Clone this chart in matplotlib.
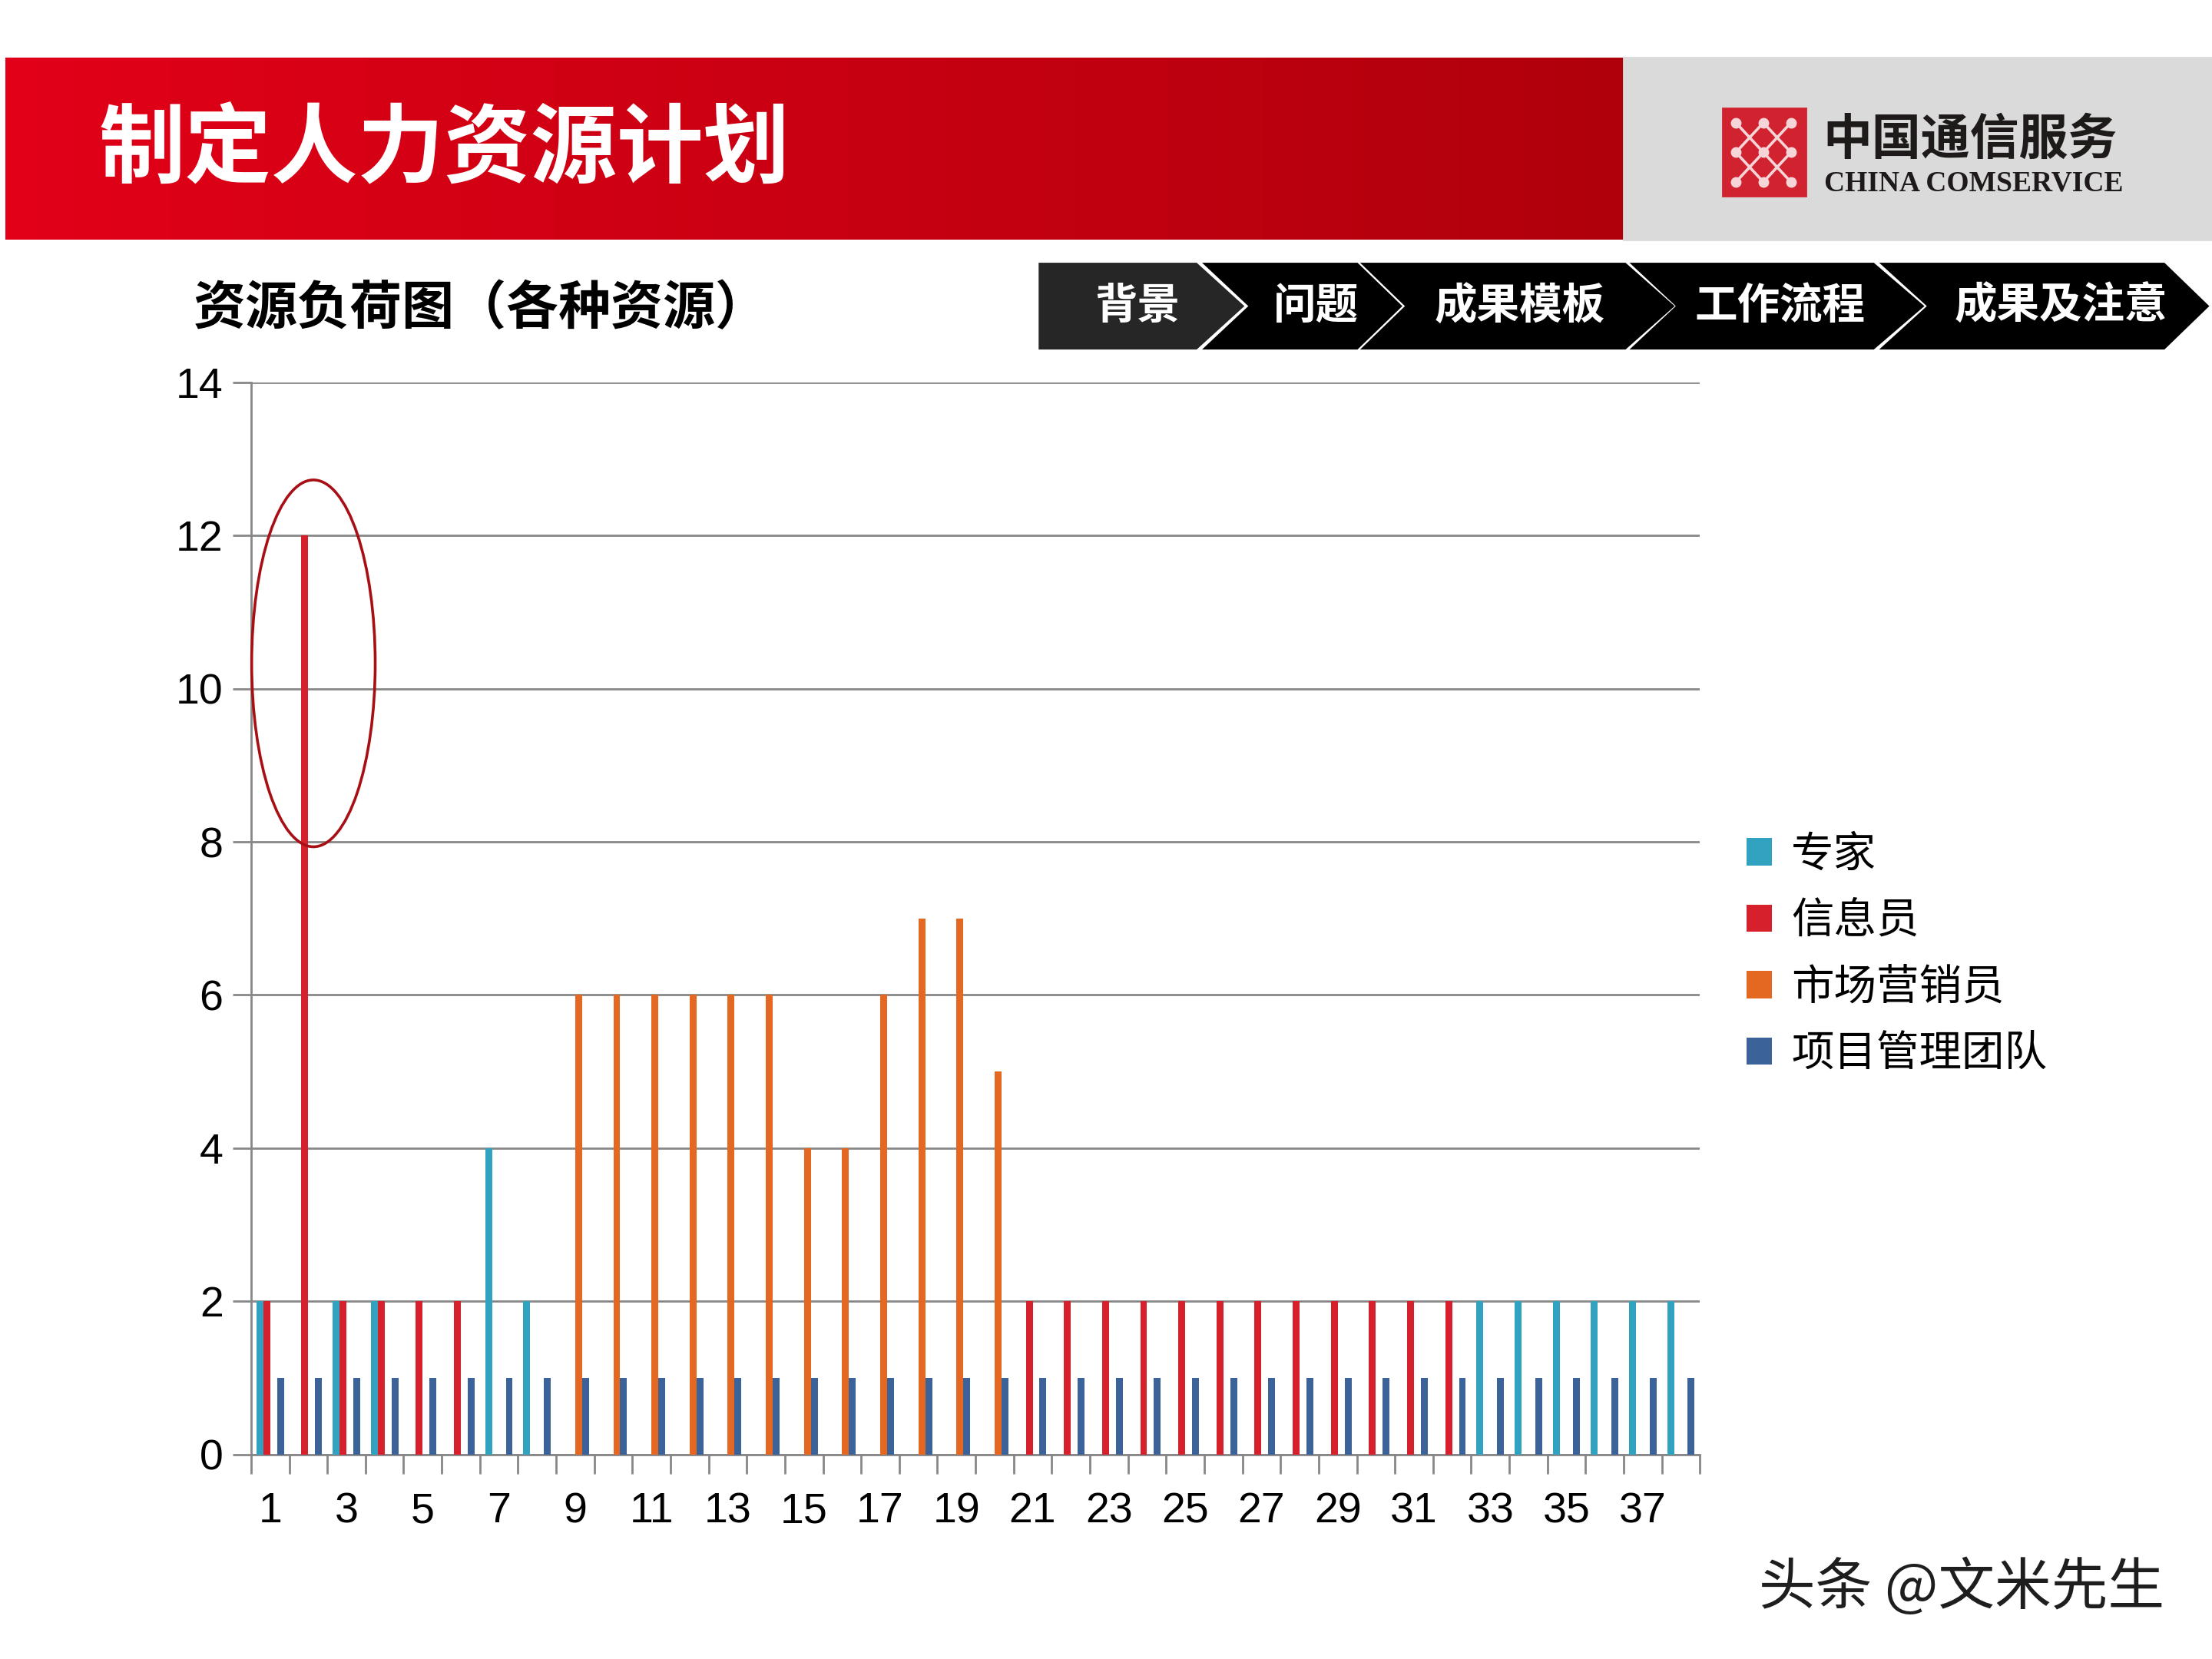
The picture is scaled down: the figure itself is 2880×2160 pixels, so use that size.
import numpy as np
import matplotlib
matplotlib.use('Agg')
import matplotlib.pyplot as plt
from matplotlib.patches import Rectangle, Polygon, Ellipse

plt.rcParams['font.family'] = ['Liberation Sans', 'Noto Sans CJK SC', 'DejaVu Sans']
CJK = ['Noto Sans CJK SC', 'DejaVu Sans']

# data
categories = list(range(1, 39))
series_names = ['专家', '信息员', '市场营销员', '项目管理团队']
expert = [2, 0, 2, 2, 0, 0, 4, 2] + [0] * 24 + [2] * 6
informant = [2, 12, 2, 2, 2, 2, 0, 0] + [0] * 12 + [2] * 12 + [0] * 6
marketing = [0] * 8 + [6, 6, 6, 6, 6, 6, 4, 4, 6, 7, 7, 5] + [0] * 18
pm_team = [1] * 38
series_values = [expert, informant, marketing, pm_team]
series_colors = ['#31A2BF', '#D6212C', '#E46722', '#3B6399']

xtick_labels = [str(c) if c % 2 == 1 else '' for c in categories]
yticks = [0, 2, 4, 6, 8, 10, 12, 14]

title = '制定人力资源计划'
subtitle = '资源负荷图（各种资源）'
nav_labels = ['背景', '问题', '成果模板', '工作流程', '成果及注意']
nav_centers = [806, 933, 1077, 1262, 1461]
watermark = '头条 @文米先生'

fig = plt.figure(figsize=(14.4, 10.8), dpi=200)
fig.patch.set_facecolor('white')

# background layer in reference pixel units (1568 x 1176)
bg = fig.add_axes([0, 0, 1, 1])
bg.set_xlim(0, 1568)
bg.set_ylim(1176, 0)
bg.axis('off')

# header gradient
t = np.linspace(0, 1, 256)
left = np.array([226, 0, 24]) / 255
right = np.array([176, 0, 12]) / 255
grad = (left[None, :] * (1 - t[:, None]) + right[None, :] * t[:, None])[None, :, :]
bg.imshow(grad, extent=(4, 1151, 170, 41), aspect='auto', zorder=1)
bg.add_patch(Rectangle((1151, 41), 417, 129, color='#DADADA', zorder=1))
bg.text(70, 107, title, color='white', fontsize=40.5, fontweight='bold',
        family=CJK, va='center', ha='left', zorder=3)

# logo
bg.add_patch(Rectangle((1221, 77), 59, 62, color='#D12230', zorder=2))
gx = [1230.5, 1250, 1269.5]
gy = [87, 108, 129]
links = [((0, 0), (2, 2)), ((2, 0), (0, 2)), ((1, 0), (0, 1)), ((1, 0), (2, 1)),
         ((0, 1), (1, 2)), ((2, 1), (1, 2))]
for (a, b), (c, d) in links:
    bg.plot([gx[a], gx[c]], [gy[b], gy[d]], color='#F6D5D8', lw=1.3, zorder=3)
for i in range(3):
    for j in range(3):
        bg.plot(gx[i], gy[j], 'o', color='#F6D5D8', ms=4, zorder=4)
bg.text(1292, 99, '中国通信服务', color='#1E1A1A', fontsize=23, fontweight='bold',
        family=CJK, va='center', ha='left', zorder=3)
bg.text(1293, 130, 'CHINA COMSERVICE', color='#1E1A1A', fontsize=13.5, fontweight='bold',
        family='Liberation Serif', va='center', ha='left', zorder=3)

# subtitle
bg.text(137, 219, subtitle, color='black', fontsize=24.5, fontweight='bold',
        family=CJK, va='center', ha='left', zorder=3)

# chevron navigation
chevrons = [
    [(737, 187), (848, 187), (881, 217), (848, 247), (737, 247)],
    [(854, 187), (962, 187), (993, 217), (962, 247), (854, 247), (886, 217)],
    [(966, 187), (1152, 187), (1186, 217), (1152, 247), (966, 247), (997, 217)],
    [(1157, 187), (1328, 187), (1363, 217), (1328, 247), (1157, 247), (1189, 217)],
    [(1334, 187), (1534, 187), (1565, 217), (1534, 247), (1334, 247), (1367, 217)],
]
for k, pts in enumerate(chevrons):
    bg.add_patch(Polygon(pts, closed=True, color='#262626' if k == 0 else 'black', zorder=2))
for label, cx in zip(nav_labels, nav_centers):
    bg.text(cx, 217, label, color='white', fontsize=20, fontweight='bold',
            family=CJK, va='center', ha='center', zorder=3)

bg.text(1247, 1126, watermark, color='#1E1E1E', fontsize=26.5,
        family=CJK, va='center', ha='left', zorder=3)

# chart
ax = fig.add_axes([178 / 1568, 1 - 1031 / 1176, 1027 / 1568, 760 / 1176])
ax.patch.set_alpha(0)
x = np.arange(len(categories))
w = 0.18
offsets = [-0.27, -0.09, 0.09, 0.27]
handles = []
for vals, off, col in zip(series_values, offsets, series_colors):
    h = ax.bar(x + off, vals, width=w, color=col, zorder=3)
    handles.append(h)

ax.set_xlim(-0.5, len(categories) - 0.5)
ax.set_ylim(0, 14)
ax.set_yticks(yticks)
ax.set_yticklabels([str(v) for v in yticks])
ax.yaxis.grid(True, color='#878787', linewidth=1.0)
ax.set_axisbelow(True)

ax.set_xticks(x)
ax.set_xticklabels(xtick_labels)
ax.set_xticks(np.arange(-0.5, len(categories)), minor=True)
ax.tick_params(axis='x', which='major', length=0, pad=17.5, labelsize=20)
ax.tick_params(axis='x', which='minor', length=9, width=1.0, color='#878787', direction='out')
ax.tick_params(axis='y', length=8.6, width=1.0, color='#878787', pad=4.5, labelsize=20)

for s in ['top', 'right']:
    ax.spines[s].set_visible(False)
for s in ['left', 'bottom']:
    ax.spines[s].set_color('#878787')
    ax.spines[s].set_linewidth(1.0)

ax.add_patch(Ellipse((1.135, 10.33), 3.24, 4.79, fill=False, edgecolor='#A80F14',
                     linewidth=1.3, zorder=5, clip_on=False))

fig.legend(handles, series_names, loc='center left',
           bbox_to_anchor=(1238 / 1568, 1 - 676.5 / 1176), frameon=False,
           prop={'family': CJK, 'size': 20}, handlelength=0.6, handleheight=0.6,
           handletextpad=0.45, labelspacing=0.52, borderpad=0, borderaxespad=0)

fig.savefig('out.png', dpi=200)
